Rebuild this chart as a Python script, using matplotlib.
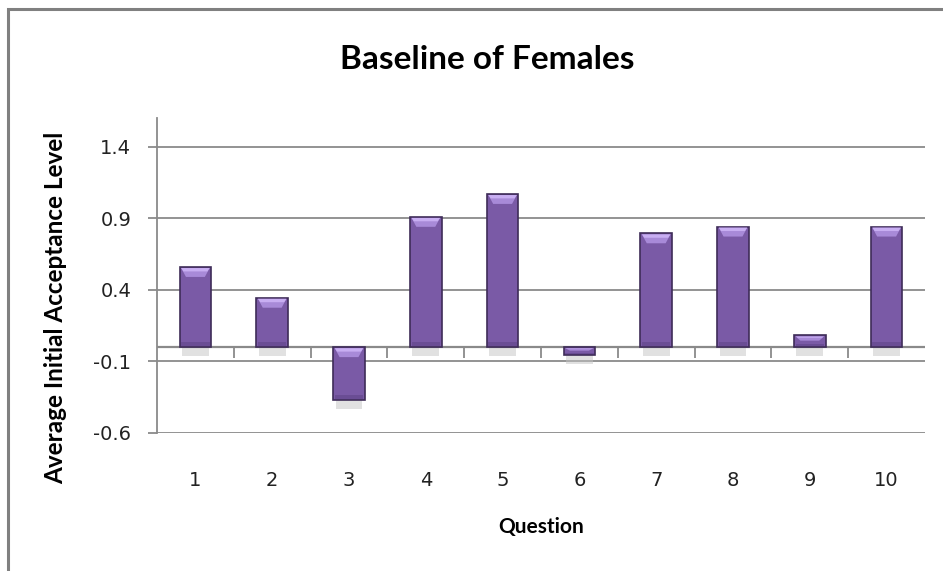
import matplotlib
matplotlib.use("Agg")
from matplotlib import pyplot as plt
from matplotlib.patches import Rectangle, Polygon
import numpy as np

questions = ["1", "2", "3", "4", "5", "6", "7", "8", "9", "10"]
values = [0.56, 0.345, -0.37, 0.91, 1.07, -0.055, 0.795, 0.842, 0.082, 0.842]
y_ticks = [-0.6, -0.1, 0.4, 0.9, 1.4]

plt.rcParams['font.family'] = ['Lato', 'DejaVu Sans']

bar_col = "#7a5aa6"
edge_col = "#3e2c58"
bevel_col = "#a88ad8"
bevel_hi = "#c8aef2"
grid_col = "#8a8a8a"

fig = plt.figure(figsize=(9.43, 5.71), dpi=100)
ax = fig.add_axes([157/943, 1-433/571, (925-157)/943, (433-118)/571])

x = np.arange(1, len(values)+1)
w = 0.41
ymin, ymax = -0.6, 1.6

# soft shadows under each bar
for xi, v in zip(x, values):
    base = min(0, v)
    ax.add_patch(Rectangle((xi - w/2 + 0.03, base - 0.065), w - 0.06, 0.065, color="#c4c4c4",
                           alpha=0.5, lw=0, zorder=2))

bars = ax.bar(x, values, width=w, color=bar_col, edgecolor=edge_col, linewidth=1.2, zorder=3)

# bevel on top of each bar
for xi, v in zip(x, values):
    top = max(0, v)
    h = min(0.07, abs(v)*0.45)
    inset = w*0.2
    ax.add_patch(Polygon([(xi - w/2 + 0.02, top - 0.008), (xi + w/2 - 0.02, top - 0.008),
                          (xi + w/2 - inset, top - h), (xi - w/2 + inset, top - h)],
                         closed=True, color=bevel_col, lw=0, zorder=4))
    ax.add_patch(Polygon([(xi - w/2 + 0.02, top - 0.008), (xi + w/2 - 0.02, top - 0.008),
                          (xi + w/2 - inset*0.6, top - h*0.45), (xi - w/2 + inset*0.6, top - h*0.45)],
                         closed=True, color=bevel_hi, lw=0, zorder=4))
    # darker lower band
    bot = min(0, v)
    hb = min(0.03, abs(v)*0.2)
    ax.add_patch(Rectangle((xi - w/2 + 0.02, bot + 0.006), w - 0.04, hb,
                           color="#6a4d94", lw=0, zorder=4))

ax.set_xlim(0.5, len(values)+0.5)
ax.set_ylim(ymin, ymax)
ax.set_yticks(y_ticks)
ax.set_yticklabels([f"{t:.1f}" for t in y_ticks], fontsize=14, family=['DejaVu Sans'],
                   color="#222222")
ax.yaxis.grid(True, color=grid_col, linewidth=1.3)
ax.set_axisbelow(True)
ax.tick_params(axis='y', length=6.5, color=grid_col, width=1.3, pad=12)

ax.set_xticks(x)
ax.set_xticklabels(questions, fontsize=14, family=['DejaVu Sans'], color="#222222")
ax.tick_params(axis='x', length=0, pad=27)

for s in ['top', 'right', 'bottom']:
    ax.spines[s].set_visible(False)
ax.spines['left'].set_color(grid_col)
ax.spines['left'].set_linewidth(1.3)

# category axis at zero with boundary ticks
ax.axhline(0, color=grid_col, linewidth=1.6, zorder=2.5)
zero_loc = (0 - ymin)/(ymax - ymin)
sec = ax.secondary_xaxis(zero_loc)
sec.set_xticks(np.arange(1.5, len(values), 1.0))
sec.set_xticklabels([])
sec.tick_params(length=8, color=grid_col, width=1.3, direction='out')
sec.spines['bottom'].set_visible(False)

ax.set_xlabel("Question", fontsize=15, fontweight='bold', labelpad=20)
fig.text(56/943, 1 - 308/571, "Average Initial Acceptance Level", fontsize=17.5,
         fontweight='bold', rotation=90, ha='center', va='center')

fig.text(0.517, 0.895, "Baseline of Females", fontsize=24, fontweight='bold',
         ha='center', va='center')

# page frame
fig.patches.append(Rectangle((8/943, -0.2), 1.2, 1.2 - 9/571, transform=fig.transFigure,
                             fill=False, edgecolor="#808080", linewidth=2.2))

plt.savefig("out.png", dpi=100)
